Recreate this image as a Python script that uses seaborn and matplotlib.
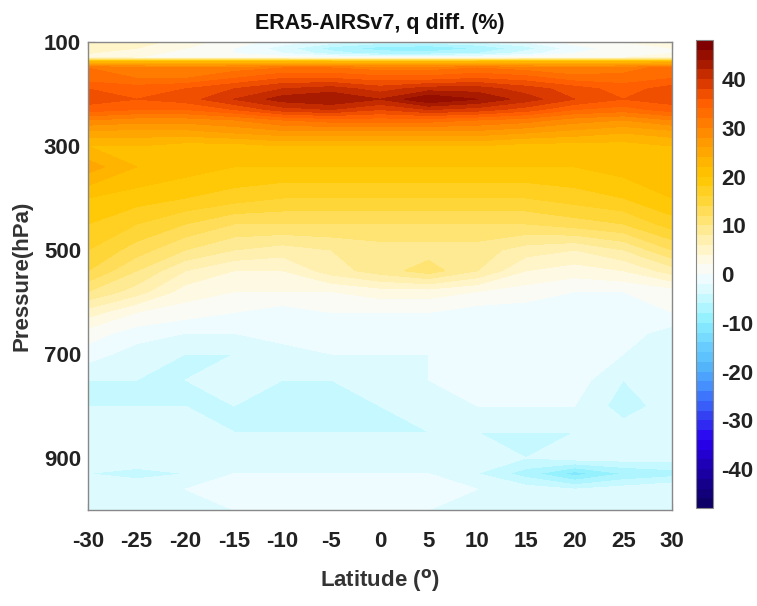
import numpy as np
import matplotlib
matplotlib.use("Agg")
import matplotlib.pyplot as plt
import seaborn as sns
from matplotlib.colors import LinearSegmentedColormap, BoundaryNorm

# ---- data ----
latitudes = [-30, -25, -20, -15, -10, -5, 0, 5, 10, 15, 20, 25, 30]
pressures = [100, 112, 122, 130, 138, 150, 170, 190, 210, 230, 250, 275, 300,
             340, 400, 450, 500, 540, 580, 620, 660, 700, 750, 800, 850, 900,
             930, 960, 1000]
q_p100 = [6, 5, 3, 1, -1, -3, -5, -5, -4, -2, 1, 2, 3]
q_p112 = [5, 4, 2, 0, -3, -7, -9, -10, -8, -5, -1, 1, 2]
q_p122 = [4, 3, 1, 0, -2, -5, -7, -7, -6, -3, 0, 1, 2]
q_p130 = [3, 2, 2, 1, 1, 0, 0, 0, 0, 1, 2, 2, 3]
q_p138 = [22, 22, 22, 22, 22, 22, 22, 22, 22, 22, 22, 22, 22]
q_p150 = [32, 31, 30, 31, 32, 32, 31, 31, 32, 31, 30, 31, 33]
q_p170 = [33, 32, 32, 34, 36, 36, 35, 35, 36, 35, 33, 33, 34]
q_p190 = [36, 35, 36, 38, 40, 41, 39, 41, 41, 39, 37, 35, 37]
q_p210 = [37, 36, 37, 40, 43, 44, 42, 46, 44, 41, 38, 36, 37]
q_p230 = [35, 34, 34, 36, 39, 40, 38, 40, 39, 37, 34, 33, 35]
q_p250 = [30, 29, 29, 30, 32, 33, 33, 33, 32, 31, 29, 28, 30]
q_p275 = [25, 25, 25, 26, 27, 27, 27, 27, 27, 26, 25, 24, 25]
q_p300 = [22, 22, 21, 21, 22, 22, 22, 22, 22, 21, 21, 21, 22]
q_p340 = [25, 22, 21, 20, 20, 20, 20, 20, 20, 20, 20, 21, 22]
q_p400 = [20, 19, 18, 17, 16, 16, 16, 16, 16, 16, 17, 18, 20]
q_p450 = [18, 16, 14, 12, 12, 12, 12, 12, 12, 12, 13, 14, 17]
q_p500 = [16, 13, 10, 8, 7, 8, 9, 9, 9, 7, 6, 8, 12]
q_p540 = [14, 10, 6, 4, 4, 7, 9, 11, 8, 4, 3, 4, 7]
q_p580 = [10, 7, 3, 2, 2, 2, 3, 3, 2, 1, 0, 0, 1]
q_p620 = [5, 2, 1, 0, -1, 0, 0, 0, -1, -1, -1, -1, 0]
q_p660 = [1, -1, -2, -2, -1, -1, -1, -1, -1, -1, -1, -1, -3]
q_p700 = [-1, -3, -4, -4, -3, -2, -2, -2, -1, -1, -1, -2, -2]
q_p750 = [-4, -4, -4, -2, -4, -4, -3, -2, -1, -1, -1, -4, -2]
q_p800 = [-4, -4, -4, -4, -4, -4, -4, -3, -2, -2, -2, -5, -3]
q_p850 = [-2, -2, -3, -4, -4, -4, -4, -4, -4, -4, -4, -3, -3]
q_p900 = [-2, -2, -3, -3, -3, -3, -3, -3, -3, -4, -3, -3, -3]
q_p930 = [-4, -5, -4, -2, -2, -2, -2, -2, -4, -7, -11, -8, -7]
q_p960 = [-3, -2, -2, -1, -1, -1, -1, -1, -2, -3, -4, -3, -2]
q_p1000 = [-4, -4, -3, -2, -2, -2, -2, -2, -2, -2, -2, -2, -2]

rows = [q_p100, q_p112, q_p122, q_p130, q_p138, q_p150, q_p170, q_p190,
        q_p210, q_p230, q_p250, q_p275, q_p300, q_p340, q_p400, q_p450,
        q_p500, q_p540, q_p580, q_p620, q_p660, q_p700, q_p750, q_p800,
        q_p850, q_p900, q_p930, q_p960, q_p1000]
Q = np.array(rows, dtype=float)

xticks = [-30, -25, -20, -15, -10, -5, 0, 5, 10, 15, 20, 25, 30]
yticks = [100, 300, 500, 700, 900]
cbar_ticks = [-40, -30, -20, -10, 0, 10, 20, 30, 40]

# ---- style ----
sns.set_style("ticks")
FONT = ["Liberation Sans", "DejaVu Sans"]
plt.rcParams["font.family"] = FONT
plt.rcParams["font.weight"] = "bold"
plt.rcParams["axes.unicode_minus"] = False

anchors = [
    (-48, (0.05, 0.00, 0.40)),
    (-40, (0.12, 0.00, 0.72)),
    (-35, (0.16, 0.00, 0.94)),
    (-30, (0.20, 0.25, 0.95)),
    (-25, (0.25, 0.50, 1.00)),
    (-20, (0.32, 0.70, 0.98)),
    (-15, (0.42, 0.82, 1.00)),
    (-10, (0.55, 0.94, 1.00)),
    (-5, (0.80, 0.98, 1.00)),
    (0, (0.98, 0.99, 1.00)),
    (4, (1.00, 0.97, 0.84)),
    (8, (1.00, 0.93, 0.63)),
    (12, (1.00, 0.88, 0.40)),
    (16, (1.00, 0.83, 0.18)),
    (20, (1.00, 0.78, 0.00)),
    (24, (1.00, 0.69, 0.00)),
    (28, (1.00, 0.59, 0.00)),
    (32, (1.00, 0.47, 0.00)),
    (36, (1.00, 0.36, 0.00)),
    (40, (0.85, 0.22, 0.00)),
    (44, (0.65, 0.10, 0.00)),
    (48, (0.50, 0.00, 0.00)),
]
cmap = LinearSegmentedColormap.from_list(
    "qdiff", [((v + 48) / 96.0, c) for v, c in anchors])
levels = np.arange(-48, 49, 2)
norm = BoundaryNorm(levels, cmap.N)

fig = plt.figure(figsize=(7.57, 6.06), dpi=100)
ax = fig.add_axes([0.1162, 0.1584, 0.7715, 0.7723])
cax = fig.add_axes([0.9194, 0.1617, 0.0225, 0.772])

cf = ax.contourf(latitudes, pressures, Q, levels=levels, cmap=cmap, norm=norm)
ax.set_xlim(-30, 30)
ax.set_ylim(1000, 100)
ax.set_xticks(xticks)
ax.set_yticks(yticks)
ax.tick_params(axis="both", direction="in", top=True, right=True, length=5,
               color="#555555", labelsize=16)
ax.tick_params(axis="x", pad=15)
ax.tick_params(axis="y", pad=5)
for lab in ax.get_xticklabels() + ax.get_yticklabels():
    lab.set_fontweight("bold")
    lab.set_color("#222222")
for s in ax.spines.values():
    s.set_color("#888888")
    s.set_linewidth(1.0)

ax.set_title("ERA5-AIRSv7, q diff. (%)", fontsize=15.5, fontweight="bold",
             pad=9, color="#111111")
ax.set_xlabel("Latitude ($^{\\rm o}$)", fontsize=16, fontweight="bold",
              labelpad=11, color="#333333")
ax.set_ylabel("Pressure(hPa)", fontsize=16, fontweight="bold", labelpad=8,
              color="#333333")

cb = fig.colorbar(cf, cax=cax, ticks=cbar_ticks)
cb.minorticks_off()
cb.ax.tick_params(direction="in", length=4, labelsize=16, color="#555555", pad=6)
for lab in cb.ax.get_yticklabels():
    lab.set_fontweight("bold")
    lab.set_color("#222222")
cb.outline.set_edgecolor("#888888")

fig.savefig("out.png", dpi=100)
